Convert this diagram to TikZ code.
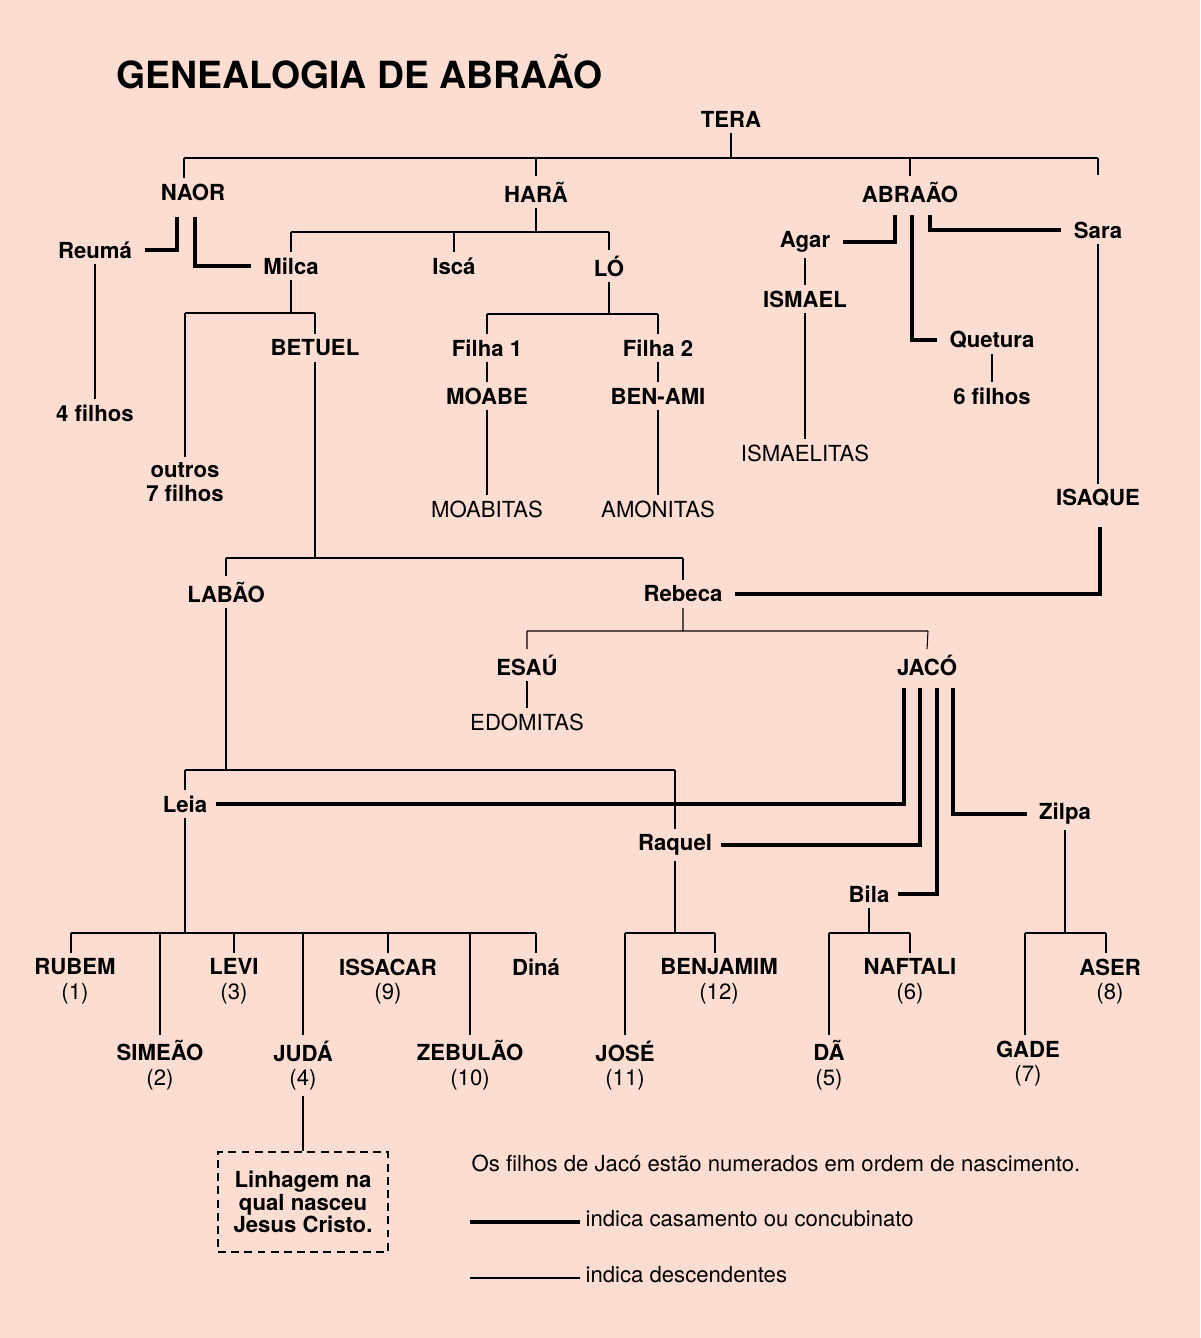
\documentclass[tikz,border=0pt]{standalone}
\usepackage{fontspec}
\setmainfont{TeX Gyre Heros}
\definecolor{bgpink}{RGB}{252,221,210}

\begin{document}
\begin{tikzpicture}[x=0.02cm, y=-0.02cm,
    lbl/.style={font=\fontsize{12.6}{14}\selectfont\bfseries, inner sep=3pt, align=center},
    people/.style={font=\fontsize{12.6}{15}\selectfont, inner sep=3pt},
    son/.style={lbl, anchor=north},
    desc/.style={draw, line width=0.6pt},
    wed/.style={draw, line width=2pt}
]
\fill[bgpink] (0,0) rectangle (1200,1338);
\useasboundingbox (0,0) rectangle (1200,1338);

\node[anchor=west, font=\fontsize{21.3}{24}\selectfont\bfseries] (title) at (110,72) {GENEALOGIA DE ABRAÃO};

% Tera and sons
\node[lbl] (tera) at (731,119) {TERA};
\node[lbl] (naor) at (193,192) {NAOR};
\node[lbl] (hara) at (536,192) {HARÃ};
\node[lbl] (abraao) at (910,192) {ABRAÃO};
\node[lbl] (sara) at (1098,230) {Sara};
\node[lbl] (reuma) at (95,250) {Reumá};
\node[lbl] (milca) at (291,266) {Milca};
\node[lbl] (isca) at (454,266) {Iscá};
\node[lbl] (lo) at (609,266) {LÓ};
\node[lbl] (quatro) at (95,413) {4 filhos};
\node[lbl] (outros) at (185,482) {outros\\7 filhos};
\node[lbl] (betuel) at (315,348) {BETUEL};
\node[lbl] (filha1) at (487,348) {Filha 1};
\node[lbl] (filha2) at (658,348) {Filha 2};
\node[lbl] (moabe) at (487,396) {MOABE};
\node[lbl] (benami) at (658,396) {BEN-AMI};
\node[people] (moabitas) at (487,509) {MOABITAS};
\node[people] (amonitas) at (658,509) {AMONITAS};
\node[lbl] (agar) at (805,242) {Agar};
\node[lbl] (ismael) at (805,299) {ISMAEL};
\node[people] (ismaelitas) at (805,453) {ISMAELITAS};
\node[lbl] (quetura) at (992,340) {Quetura};
\node[lbl] (seis) at (992,396) {6 filhos};
\node[lbl] (isaque) at (1098,498) {ISAQUE};
\node[lbl] (labao) at (226,592) {LABÃO};
\node[lbl] (rebeca) at (683,594) {Rebeca};
\node[lbl] (esau) at (527,665) {ESAÚ};
\node[lbl] (jaco) at (927,665) {JACÓ};
\node[people] (edomitas) at (527,722) {EDOMITAS};
\node[lbl] (leia) at (185,804) {Leia};
\node[lbl] (raquel) at (675,845) {Raquel};
\node[lbl] (bila) at (869,894) {Bila};
\node[lbl] (zilpa) at (1065,814) {Zilpa};

% sons of Jacob
\node[son] (rubem) at (75,953) {RUBEM\\\mdseries(1)};
\node[son] (simeao) at (160,1035) {SIMEÃO\\\mdseries(2)};
\node[son] (levi) at (234,953) {LEVI\\\mdseries(3)};
\node[son] (juda) at (303,1035) {JUDÁ\\\mdseries(4)};
\node[son] (issacar) at (388,953) {ISSACAR\\\mdseries(9)};
\node[son] (zebulao) at (470,1035) {ZEBULÃO\\\mdseries(10)};
\node[son] (dina) at (536,953) {Diná};
\node[son] (jose) at (625,1035) {JOSÉ\\\mdseries(11)};
\node[son] (benjamim) at (719,953) {BENJAMIM\\\mdseries(12)};
\node[son] (da) at (829,1035) {DÃ\\\mdseries(5)};
\node[son] (naftali) at (910,953) {NAFTALI\\\mdseries(6)};
\node[son] (gade) at (1028,1035) {GADE\\\mdseries(7)};
\node[son] (aser) at (1110,953) {ASER\\\mdseries(8)};

\node[lbl, draw, dash pattern=on 4.5pt off 3pt, line width=0.6pt, minimum width=3.4cm, minimum height=2cm,
      font=\fontsize{12.6}{12.6}\selectfont\bfseries] (linhagem) at (303,1202) {Linhagem na\\qual nasceu\\Jesus Cristo.};

% descendants
\path[desc] (tera.south) -- (tera.south |- 0,158) (184,158) -- (1098,158)
  (184,158) -- (naor.north -| 184,0) (536,158) -- (hara.north) (910,158) -- (abraao.north)
  (1098,158) -- (1098,175);
\path[desc] (hara.south) -- (536,232) (291,232) -- (609,232)
  (291,232) -- (milca.north) (454,232) -- (isca.north) (609,232) -- (lo.north);
\path[desc] (milca.south) -- (291,313) (185,313) -- (315,313)
  (185,313) -- (outros.north) (315,313) -- (betuel.north);
\path[desc] (reuma.south) -- (quatro.north);
\path[desc] (lo.south) -- (609,314) (487,314) -- (658,314)
  (487,314) -- (filha1.north) (658,314) -- (filha2.north);
\path[desc] (filha1.south) -- (moabe.north) (filha2.south) -- (benami.north)
  (moabe.south) -- (moabitas.north) (benami.south) -- (amonitas.north);
\path[desc] (agar.south) -- (ismael.north) (ismael.south) -- (ismaelitas.north)
  (quetura.south) -- (seis.north) (sara.south) -- (isaque.north);
\path[desc] (betuel.south) -- (315,558) (226,558) -- (683,558)
  (226,558) -- (labao.north) (683,558) -- (rebeca.north);
\path[desc] (rebeca.south) -- (683,631) (527,631) -- (928,631)
  (527,631) -- (esau.north) (928,631) -- (jaco.north);
\path[desc] (esau.south) -- (edomitas.north);
\path[desc] (labao.south) -- (226,770) (185,770) -- (675,770)
  (185,770) -- (leia.north) (675,770) -- (raquel.north);
\path[desc] (leia.south) -- (185,933) (71,933) -- (536,933)
  (71,933) -- (rubem.north -| 71,0) (160,933) -- (simeao.north) (234,933) -- (levi.north)
  (303,933) -- (juda.north) (388,933) -- (issacar.north) (470,933) -- (zebulao.north)
  (536,933) -- (dina.north);
\path[desc] (raquel.south) -- (675,933) (625,933) -- (715,933)
  (625,933) -- (jose.north) (715,933) -- (benjamim.north -| 715,0);
\path[desc] (bila.south) -- (869,933) (829,933) -- (910,933)
  (829,933) -- (da.north) (910,933) -- (naftali.north);
\path[desc] (zilpa.south) -- (1065,933) (1025,933) -- (1106,933)
  (1025,933) -- (gade.north -| 1025,0) (1106,933) -- (aser.north -| 1106,0);
\path[desc] (juda.south) -- (linhagem.north);

% marriages
\path[wed] ([xshift=4pt]reuma.east) -| (177,217);
\path[wed] (195,217) |- ([xshift=-4pt]milca.west);
\path[wed] ([xshift=4pt]agar.east) -| (895,215);
\path[wed] (912,215) |- ([xshift=-4pt]quetura.west);
\path[wed] (930,215) |- ([xshift=-4pt]sara.west);
\path[wed] ([xshift=4pt]rebeca.east) -| (1100,527);
\path[wed] ([xshift=2pt]leia.east) -| (904,688);
\path[wed] ([xshift=2pt]raquel.east) -| (920,688);
\path[wed] ([xshift=2pt]bila.east) -| (937,688);
\path[wed] (953,688) |- ([xshift=-4pt]zilpa.west);

% legend
\node[people, anchor=west] (nota) at (466,1163) {Os filhos de Jacó estão numerados em ordem de nascimento.};
\node[people, anchor=west] (casam) at (580,1219) {indica casamento ou concubinato};
\node[people, anchor=west] (descend) at (580,1275) {indica descendentes};
\path[wed] (470,1222) -- (casam.west |- 0,1222);
\path[desc] (470,1278) -- (casam.west |- 0,1278);
\end{tikzpicture}
\end{document}
